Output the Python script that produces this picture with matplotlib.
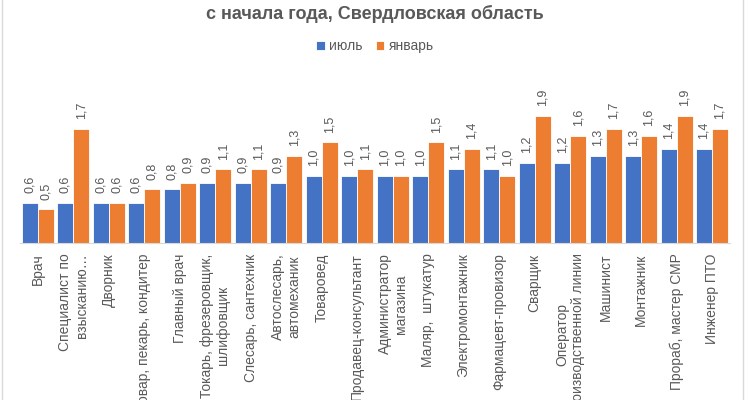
import matplotlib.pyplot as plt
import matplotlib.patches as patches
import numpy as np

plt.rcParams['font.family'] = ['Liberation Sans', 'DejaVu Sans']

# categories and values
professions = [
    "Врач",
    "Специалист по\nвзысканию…",
    "Дворник",
    "Повар, пекарь, кондитер",
    "Главный врач",
    "Токарь, фрезеровщик,\nшлифовщик",
    "Слесарь, сантехник",
    "Автослесарь,\nавтомеханик",
    "Товаровед",
    "Продавец-консультант",
    "Администратор\nмагазина",
    "Маляр,  штукатур",
    "Электромонтажник",
    "Фармацевт-провизор",
    "Сварщик",
    "Оператор\nпроизводственной линии",
    "Машинист",
    "Монтажник",
    "Прораб, мастер СМР",
    "Инженер ПТО",
]
july = [0.6, 0.6, 0.6, 0.6, 0.8, 0.9, 0.9, 0.9, 1.0, 1.0,
        1.0, 1.0, 1.1, 1.1, 1.2, 1.2, 1.3, 1.3, 1.4, 1.4]
january = [0.5, 1.7, 0.6, 0.8, 0.9, 1.1, 1.1, 1.3, 1.5, 1.1,
           1.0, 1.5, 1.4, 1.0, 1.9, 1.6, 1.7, 1.6, 1.9, 1.7]

blue = "#4472C4"
orange = "#ED7D31"
grey = "#595959"

fig = plt.figure(figsize=(7.5, 4), dpi=100)
ax = fig.add_axes([0.027, 0.3925, 0.946, 0.4325])

x = np.arange(len(professions))
w = 0.45
bars_jul = ax.bar(x - w / 2, july, w, color=blue, edgecolor="white", linewidth=0.6, label="июль")
bars_jan = ax.bar(x + w / 2, january, w, color=orange, edgecolor="white", linewidth=0.6, label="январь")

# data labels, rotated like in excel
for bars, vals in [(bars_jul, july), (bars_jan, january)]:
    for b, v in zip(bars, vals):
        ax.annotate(f"{v:.1f}".replace(".", ","),
                    (b.get_x() + b.get_width() / 2, b.get_height()),
                    xytext=(0, 7), textcoords="offset points",
                    rotation=90, ha="center", va="bottom",
                    fontsize=9, color=grey)

ax.set_xlim(-0.5, len(professions) - 0.5)
ax.set_ylim(0, 2.58)
ax.set_xticks(x)
ax.set_xticklabels(professions, rotation=90, fontsize=10, color=grey,
                   ha="center", va="top", multialignment="center")
ax.get_xticklabels()[1].set_multialignment("right")
ax.tick_params(axis="x", length=0, pad=7.5)
ax.set_yticks([])
for s in ["top", "right", "left"]:
    ax.spines[s].set_visible(False)
ax.spines["bottom"].set_color("#d9d9d9")

fig.text(0.5, 0.965, "с начала года, Свердловская область", ha="center", va="center",
         fontsize=13, fontweight="bold", color=grey)

fig.legend(handles=[bars_jul, bars_jan], loc="center", bbox_to_anchor=(0.5, 0.885),
           ncol=2, frameon=False, fontsize=10, labelcolor=grey,
           handlelength=0.6, handleheight=0.6, handletextpad=0.3, columnspacing=1.0)

# chart area frame
fig.patches.append(patches.Rectangle((0.003, -0.01), 0.987, 1.05, transform=fig.transFigure,
                                     fill=False, edgecolor="#d9d9d9", linewidth=1))

fig.savefig("out.png", dpi=100)
